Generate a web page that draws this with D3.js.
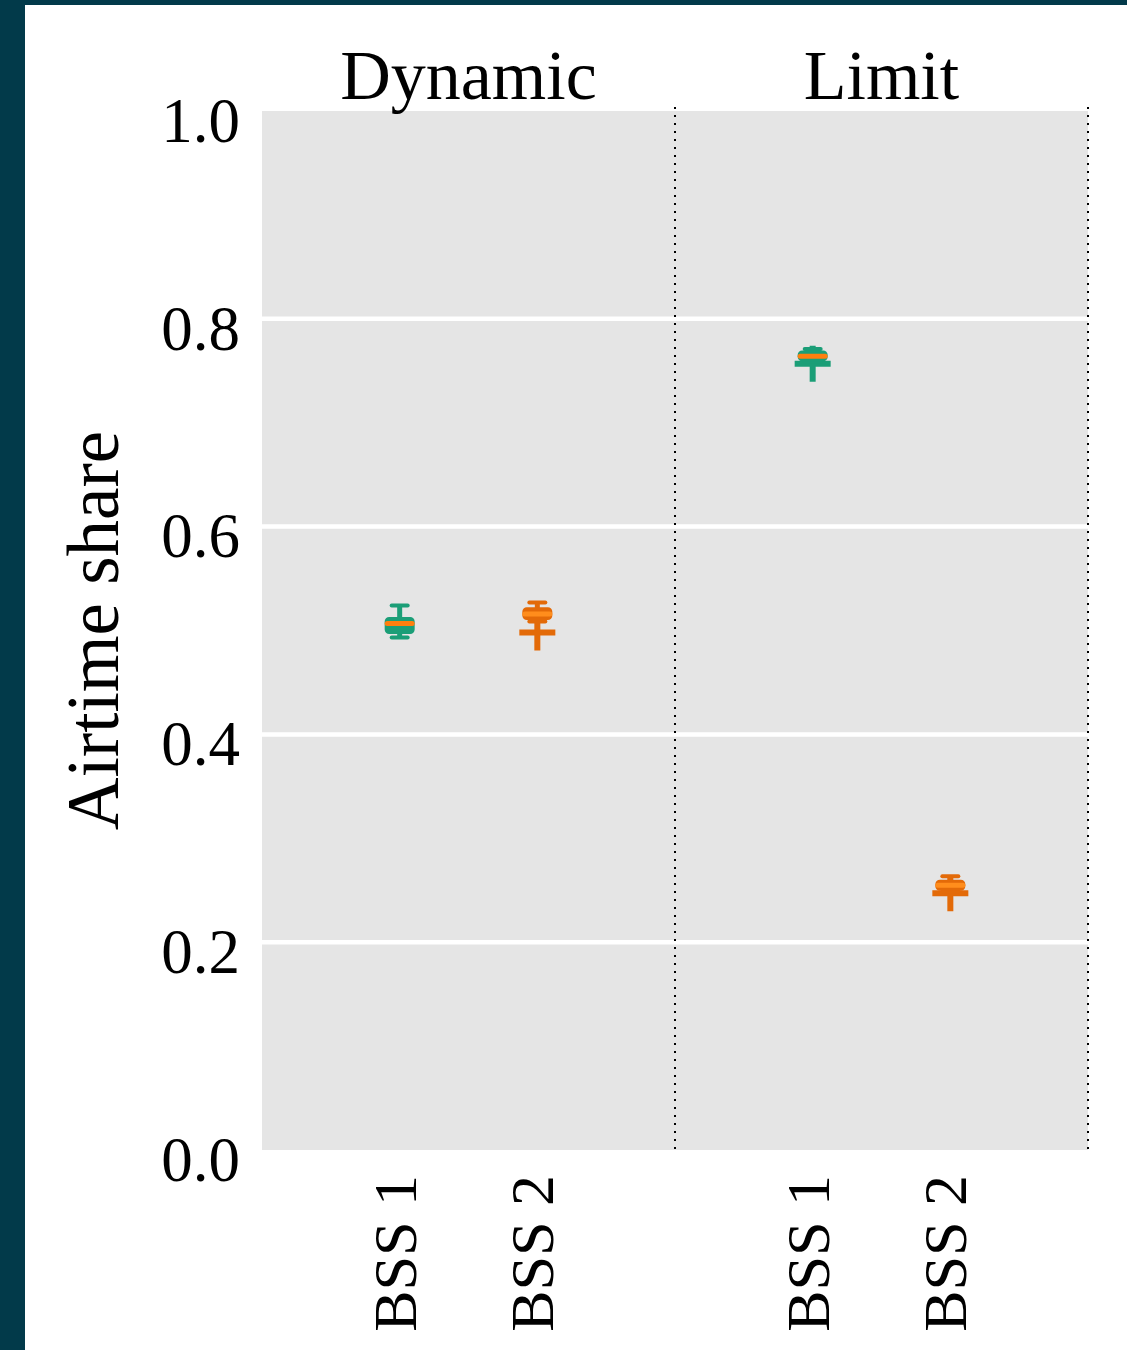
<!DOCTYPE html>
<html>
<head>
<meta charset="utf-8">
<script src="https://cdn.jsdelivr.net/npm/d3@7"></script>
<style>
  html, body { margin: 0; padding: 0; background: #ffffff; }
  svg { display: block; }
  text { font-family: "Liberation Serif", "DejaVu Serif", serif; fill: #000; }
</style>
</head>
<body>
<script>
// Panels (schemes) and the two BSSs shown in each
const panels = ["Dynamic", "Limit"];
const groups = ["BSS 1", "BSS 2"];

// Box statistics, one entry per box: Dynamic/BSS 1, Dynamic/BSS 2, Limit/BSS 1, Limit/BSS 2
const boxPanel = ["Dynamic", "Dynamic", "Limit", "Limit"];
const boxGroup = ["BSS 1", "BSS 2", "BSS 1", "BSS 2"];
const whiskerLo = [0.4933, 0.5087, 0.7587, 0.2490];
const q1        = [0.4981, 0.5115, 0.7606, 0.2510];
const median    = [0.5067, 0.5160, 0.7640, 0.2548];
const q3        = [0.5115, 0.5210, 0.7680, 0.2587];
const whiskerHi = [0.5240, 0.5270, 0.7710, 0.2635];
const outliers  = [[], [0.498], [0.7567], [0.247]];

const yTicks = [0.0, 0.2, 0.4, 0.6, 0.8, 1.0];

const groupColor = { "BSS 1": "#1b9e77", "BSS 2": "#e36a08" };
const medianColor = { "BSS 1": "#ff7f0e", "BSS 2": "#ff8d1c" };

const W = 1127, H = 1350;
const plot = { left: 262, right: 1088, top: 111, bottom: 1150 };

const svg = d3.select("body").append("svg")
  .attr("width", W).attr("height", H);

// Frame strips on the left and top edges
svg.append("rect").attr("x", 0).attr("y", 0).attr("width", W).attr("height", H).attr("fill", "#ffffff");
svg.append("rect").attr("x", 0).attr("y", 0).attr("width", 25).attr("height", H).attr("fill", "#023a4a");
svg.append("rect").attr("x", 0).attr("y", 0).attr("width", W).attr("height", 5).attr("fill", "#023a4a");

const xPanel = d3.scaleBand().domain(panels).range([plot.left, plot.right]).paddingInner(0).paddingOuter(0);
const xGroup = d3.scalePoint().domain(groups).range([0, xPanel.bandwidth()]).padding(1);
const y = d3.scaleLinear().domain([0, 1]).range([plot.bottom, plot.top]);

// Plot background
svg.append("rect")
  .attr("x", plot.left).attr("y", plot.top)
  .attr("width", plot.right - plot.left).attr("height", plot.bottom - plot.top)
  .attr("fill", "#e5e5e5");

// Horizontal grid
svg.append("g").selectAll("line")
  .data(yTicks.filter(t => t > 0 && t < 1))
  .join("line")
  .attr("x1", plot.left).attr("x2", plot.right)
  .attr("y1", d => y(d)).attr("y2", d => y(d))
  .attr("stroke", "#ffffff").attr("stroke-width", 4.5);

// Dotted separators at the right edge of each panel
svg.append("g").selectAll("line")
  .data(panels)
  .join("line")
  .attr("x1", d => xPanel(d) + xPanel.bandwidth()).attr("x2", d => xPanel(d) + xPanel.bandwidth())
  .attr("y1", plot.top - 4).attr("y2", plot.bottom + 4)
  .attr("stroke", "#000").attr("stroke-width", 2).attr("stroke-dasharray", "2,6");

// Y axis tick labels
const yAxis = d3.axisLeft(y).tickValues(yTicks).tickFormat(d3.format(".1f")).tickSize(0).tickPadding(22);
const gy = svg.append("g").attr("transform", `translate(${plot.left},0)`).call(yAxis);
gy.select(".domain").remove();
gy.selectAll("text")
  .attr("font-family", "Liberation Serif, DejaVu Serif, serif")
  .attr("font-size", 63).attr("fill", "#000")
  .attr("dy", "0.48em");

// Y axis title
svg.append("text")
  .attr("transform", `translate(118,${(plot.top + plot.bottom) / 2}) rotate(-90)`)
  .attr("text-anchor", "middle")
  .attr("font-size", 73)
  .text("Airtime share");

// Panel titles
svg.append("g").selectAll("text")
  .data(panels)
  .join("text")
  .attr("x", d => xPanel(d) + xPanel.bandwidth() / 2)
  .attr("y", 99)
  .attr("text-anchor", "middle")
  .attr("font-size", 70)
  .text(d => d);

// Rotated category labels under each panel
const catLabels = [];
panels.forEach(p => groups.forEach(g => catLabels.push({ p, g })));
svg.append("g").selectAll("text")
  .data(catLabels)
  .join("text")
  .attr("transform", d => `translate(${xPanel(d.p) + xGroup(d.g)},1175) rotate(-90)`)
  .attr("text-anchor", "end")
  .attr("dy", "0.26em")
  .attr("font-size", 62)
  .text(d => d.g);

// Boxes
const boxW = 27, capW = 16, plusW = 36;
const boxes = boxPanel.map((p, i) => ({
  cx: xPanel(p) + xGroup(boxGroup[i]),
  g: boxGroup[i],
  lo: whiskerLo[i], q1: q1[i], med: median[i], q3: q3[i], hi: whiskerHi[i],
  out: outliers[i]
}));

const gb = svg.append("g");
boxes.forEach(b => {
  const c = groupColor[b.g];
  const gg = gb.append("g");
  // outliers drawn as plus markers
  gg.selectAll("path.flier")
    .data(b.out)
    .join("path")
    .attr("class", "flier")
    .attr("d", v => `M${b.cx - plusW / 2},${y(v)}H${b.cx + plusW / 2}M${b.cx},${y(v) - plusW / 2}V${y(v) + plusW / 2}`)
    .attr("stroke", c).attr("stroke-width", 6).attr("fill", "none");
  // whiskers
  gg.append("line")
    .attr("x1", b.cx).attr("x2", b.cx)
    .attr("y1", y(b.hi)).attr("y2", y(b.lo))
    .attr("stroke", c).attr("stroke-width", 5);
  // caps
  [b.hi, b.lo].forEach(v => {
    gg.append("line")
      .attr("x1", b.cx - capW / 2).attr("x2", b.cx + capW / 2)
      .attr("y1", y(v)).attr("y2", y(v))
      .attr("stroke", c).attr("stroke-width", 4).attr("stroke-linecap", "round");
  });
  // box body
  gg.append("rect")
    .attr("x", b.cx - boxW / 2).attr("y", y(b.q3))
    .attr("width", boxW).attr("height", Math.max(1, y(b.q1) - y(b.q3)))
    .attr("rx", 3)
    .attr("fill", c).attr("stroke", c).attr("stroke-width", 3).attr("stroke-linejoin", "round");
  // median
  gg.append("line")
    .attr("x1", b.cx - boxW / 2 + 1).attr("x2", b.cx + boxW / 2 - 1)
    .attr("y1", y(b.med)).attr("y2", y(b.med))
    .attr("stroke", medianColor[b.g]).attr("stroke-width", 5).attr("stroke-linecap", "round");
});
</script>
</body>
</html>
